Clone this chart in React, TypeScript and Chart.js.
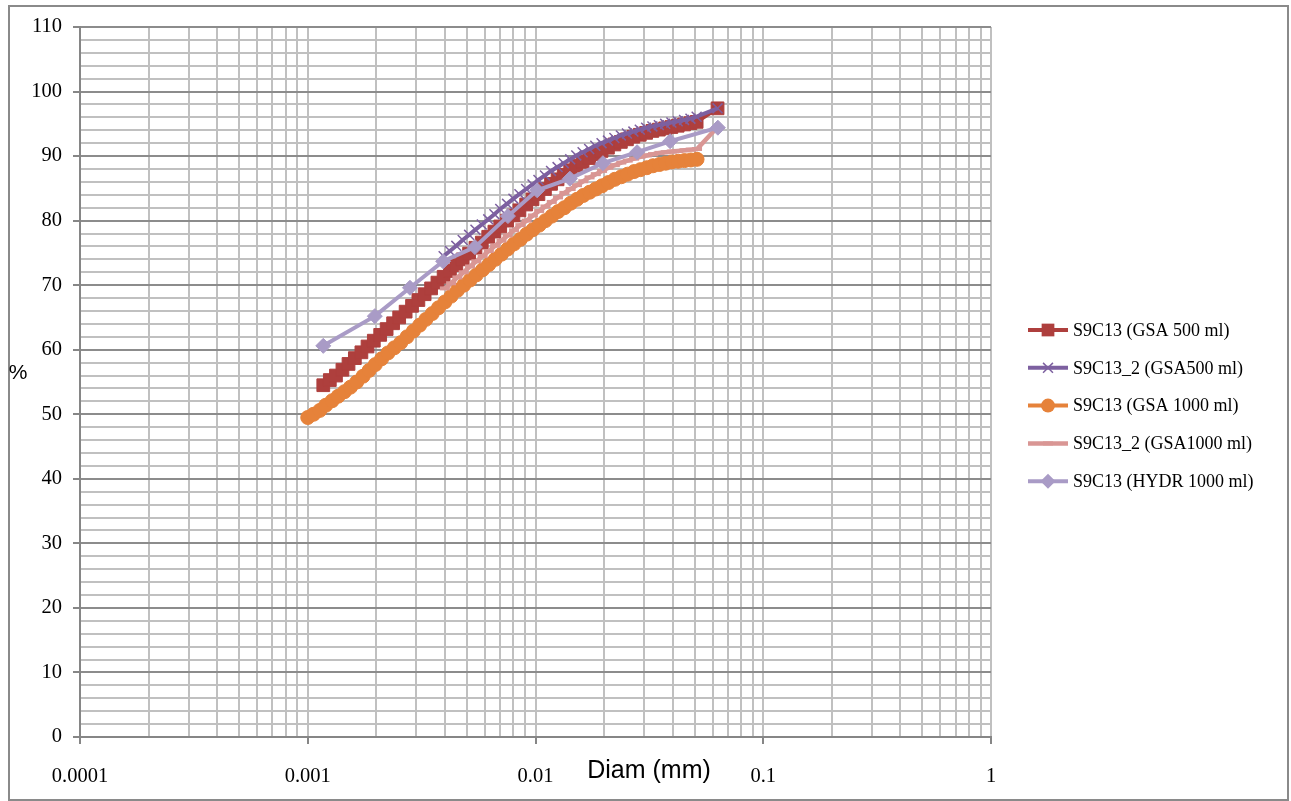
import React, { useEffect, useRef } from 'react';
import { Chart, registerables } from 'chart.js';

Chart.register(...registerables);

// ---------- data ----------
const seriesNames = [
  'S9C13 (GSA 500 ml)',
  'S9C13_2 (GSA500 ml)',
  'S9C13 (GSA 1000 ml)',
  'S9C13_2 (GSA1000 ml)',
  'S9C13 (HYDR 1000 ml)',
];
const seriesColors = ['#AE3F3D', '#7D60A0', '#E6823A', '#D99694', '#A99BC6'];
const seriesMarkers = ['rect', 'crossRot', 'circle', 'line', 'rectRot'];

const xDecades = [0.0001, 0.001, 0.01, 0.1, 1];
const xTickLabels = ['0.0001', '0.001', '0.01', '0.1', '1'];
const yTickLabels = [0, 10, 20, 30, 40, 50, 60, 70, 80, 90, 100, 110];

const gsa500Diam = [
  0.00117, 0.00125, 0.00133, 0.00142, 0.00151, 0.00161, 0.00172, 0.00183, 0.00195, 0.00208,
  0.00222, 0.00237, 0.00252, 0.00269, 0.00287, 0.00306, 0.00326, 0.00348, 0.00371, 0.00395,
  0.00421, 0.00449, 0.00479, 0.00511, 0.00545, 0.00581, 0.0062, 0.0066, 0.007, 0.0075,
  0.008, 0.0085, 0.0091, 0.0097, 0.0103, 0.011, 0.0117, 0.0125, 0.0133, 0.0142,
  0.0151, 0.0161, 0.0172, 0.0183, 0.0195, 0.0208, 0.0222, 0.0237, 0.0252, 0.0269,
  0.0287, 0.0306, 0.0326, 0.0348, 0.0371, 0.0395, 0.0421, 0.0449, 0.0479, 0.051, 0.063,
];
const gsa500Pct = [
  54.5, 55.3, 56.0, 56.9, 57.8, 58.7, 59.6, 60.5, 61.4, 62.3,
  63.2, 64.1, 65.0, 65.9, 66.8, 67.7, 68.6, 69.5, 70.4, 71.3,
  72.2, 73.1, 74.0, 74.9, 75.8, 76.6, 77.5, 78.3, 79.1, 80.0,
  80.8, 81.6, 82.5, 83.3, 84.1, 84.9, 85.7, 86.4, 87.1, 87.8,
  88.5, 89.1, 89.7, 90.3, 90.8, 91.3, 91.8, 92.2, 92.6, 93.0,
  93.3, 93.6, 93.9, 94.1, 94.3, 94.5, 94.7, 94.9, 95.1, 95.3, 97.4,
];

const gsa500bDiam = [
  0.00395, 0.00421, 0.00449, 0.00479, 0.00511, 0.00545, 0.00581, 0.0062, 0.0066, 0.007,
  0.0075, 0.008, 0.0085, 0.0091, 0.0097, 0.0103, 0.011, 0.0117, 0.0125, 0.0133,
  0.0142, 0.0151, 0.0161, 0.0172, 0.0183, 0.0195, 0.0208, 0.0222, 0.0237, 0.0252,
  0.0269, 0.0287, 0.0306, 0.0326, 0.0348, 0.0371, 0.0395, 0.0421, 0.0449, 0.0479, 0.051, 0.063,
];
const gsa500bPct = [
  74.5, 75.3, 76.1, 77.0, 77.8, 78.6, 79.4, 80.2, 81.0, 81.8,
  82.6, 83.4, 84.1, 84.9, 85.6, 86.3, 87.0, 87.7, 88.3, 88.9,
  89.5, 90.1, 90.6, 91.1, 91.6, 92.0, 92.4, 92.8, 93.2, 93.5,
  93.8, 94.1, 94.4, 94.6, 94.8, 95.0, 95.2, 95.4, 95.6, 95.8, 96.1, 97.4,
];

const gsa1000Diam = [
  0.001, 0.00106, 0.00113, 0.0012, 0.00128, 0.00136, 0.00145, 0.00154, 0.00164, 0.00175,
  0.00186, 0.00198, 0.00211, 0.00225, 0.0024, 0.00256, 0.00273, 0.00291, 0.0031, 0.0033,
  0.00352, 0.00375, 0.004, 0.00426, 0.00454, 0.00484, 0.00516, 0.0055, 0.00586, 0.00624,
  0.00665, 0.00709, 0.00755, 0.00805, 0.00858, 0.00914, 0.00974, 0.01038, 0.01106, 0.01179,
  0.01256, 0.01339, 0.01427, 0.01521, 0.01621, 0.01727, 0.0184, 0.0196, 0.0209, 0.0223,
  0.0238, 0.0254, 0.0271, 0.0289, 0.0308, 0.0328, 0.035, 0.0373, 0.0397, 0.0423,
  0.0451, 0.0481, 0.0512,
];
const gsa1000Pct = [
  49.5, 50.0, 50.6, 51.4, 52.1, 52.8, 53.5, 54.2, 55.0, 55.9,
  56.8, 57.7, 58.6, 59.5, 60.3, 61.1, 62.0, 62.9, 63.8, 64.7,
  65.6, 66.5, 67.4, 68.3, 69.2, 70.0, 70.8, 71.6, 72.4, 73.2,
  74.0, 74.8, 75.6, 76.4, 77.1, 77.9, 78.6, 79.3, 80.0, 80.7,
  81.4, 82.0, 82.7, 83.3, 83.9, 84.4, 84.9, 85.4, 85.9, 86.4,
  86.8, 87.2, 87.6, 87.9, 88.2, 88.5, 88.7, 88.9, 89.1, 89.2,
  89.3, 89.4, 89.5,
];

const gsa1000bDiam = [
  0.004, 0.00426, 0.00454, 0.00484, 0.00516, 0.0055, 0.00586, 0.00624, 0.00665, 0.00709,
  0.00755, 0.00805, 0.00858, 0.00914, 0.00974, 0.01038, 0.01106, 0.01179, 0.01256, 0.01339,
  0.01427, 0.01521, 0.01621, 0.01727, 0.0184, 0.0196, 0.0209, 0.0223, 0.0238, 0.0254,
  0.0271, 0.0289, 0.0308, 0.0328, 0.035, 0.0373, 0.0397, 0.0423, 0.0451, 0.0481, 0.0512, 0.063,
];
const gsa1000bPct = [
  69.5, 70.3, 71.2, 72.0, 72.9, 73.7, 74.5, 75.3, 76.1, 76.9,
  77.7, 78.5, 79.3, 80.0, 80.8, 81.5, 82.2, 82.9, 83.6, 84.3,
  84.9, 85.5, 86.1, 86.7, 87.2, 87.7, 88.2, 88.6, 89.0, 89.3,
  89.6, 89.9, 90.1, 90.3, 90.5, 90.6, 90.7, 90.8, 90.9, 91.0, 91.1, 94.5,
];

const hydrDiam = [0.00117, 0.00197, 0.00281, 0.00393, 0.00542, 0.00757, 0.01017, 0.01416, 0.01977, 0.02793, 0.039, 0.0632];
const hydrPct = [60.6, 65.2, 69.6, 73.7, 75.9, 80.7, 84.7, 86.5, 88.9, 90.6, 92.3, 94.4];

const seriesDiam = [gsa500Diam, gsa500bDiam, gsa1000Diam, gsa1000bDiam, hydrDiam];
const seriesPct = [gsa500Pct, gsa500bPct, gsa1000Pct, gsa1000bPct, hydrPct];
const markerRadius = [9, 7, 7, 5, 7.5];
const markerBorder = [1, 1.5, 1, 4, 1];
const lineWidths = [4, 4, 4, 4.5, 4];

// ---------- helpers ----------
const isDecade = (v: number) => xDecades.some((d) => Math.abs(d - v) / d < 1e-6);
const decadeLabel = (v: number) => {
  const i = xDecades.findIndex((d) => Math.abs(d - v) / d < 1e-6);
  return i >= 0 ? xTickLabels[i] : '';
};

function drawMarker(ctx: CanvasRenderingContext2D, style: string, x: number, y: number, r: number, color: string, bw: number) {
  ctx.save();
  ctx.fillStyle = color;
  ctx.strokeStyle = color;
  ctx.lineWidth = bw;
  ctx.beginPath();
  if (style === 'rect') {
    const s = Math.SQRT1_2 * r;
    ctx.rect(x - s, y - s, 2 * s, 2 * s);
    ctx.fill();
  } else if (style === 'circle') {
    ctx.arc(x, y, r, 0, Math.PI * 2);
    ctx.fill();
  } else if (style === 'rectRot') {
    ctx.moveTo(x - r, y);
    ctx.lineTo(x, y - r);
    ctx.lineTo(x + r, y);
    ctx.lineTo(x, y + r);
    ctx.closePath();
    ctx.fill();
  } else if (style === 'crossRot') {
    const s = Math.SQRT1_2 * r;
    ctx.moveTo(x - s, y - s);
    ctx.lineTo(x + s, y + s);
    ctx.moveTo(x + s, y - s);
    ctx.lineTo(x - s, y + s);
    ctx.stroke();
  } else if (style === 'line') {
    ctx.moveTo(x - r, y);
    ctx.lineTo(x + r, y);
    ctx.stroke();
  }
  ctx.restore();
}

const decorPlugin = {
  id: 'decor',
  beforeDraw(chart: any) {
    const ctx = chart.ctx as CanvasRenderingContext2D;
    ctx.save();
    ctx.fillStyle = '#ffffff';
    ctx.fillRect(0, 0, chart.width, chart.height);
    ctx.restore();
  },
  afterDraw(chart: any) {
    const ctx = chart.ctx as CanvasRenderingContext2D;
    ctx.save();
    // outer frame
    ctx.strokeStyle = '#8a8a8a';
    ctx.lineWidth = 2;
    ctx.strokeRect(9, 6, 1279, 794);
    // axis titles
    ctx.fillStyle = '#000';
    ctx.textAlign = 'center';
    ctx.textBaseline = 'middle';
    ctx.font = '21px "Liberation Sans", Arial, sans-serif';
    ctx.fillText('%', 18, 373);
    ctx.font = '25px "Liberation Sans", Arial, sans-serif';
    ctx.fillText('Diam (mm)', 649, 771);
    // legend
    const x0 = 1028;
    const x1 = 1068;
    for (let i = 0; i < seriesNames.length; i++) {
      const y = 330 + i * 37.8;
      ctx.strokeStyle = seriesColors[i];
      ctx.lineWidth = lineWidths[i];
      ctx.beginPath();
      ctx.moveTo(x0, y);
      ctx.lineTo(x1, y);
      ctx.stroke();
      drawMarker(ctx, seriesMarkers[i], (x0 + x1) / 2, y, markerRadius[i], seriesColors[i], markerBorder[i]);
      ctx.fillStyle = '#000';
      ctx.textAlign = 'left';
      ctx.textBaseline = 'middle';
      ctx.font = '18px "Liberation Serif", "Times New Roman", serif';
      ctx.fillText(seriesNames[i], 1073, y + 1);
    }
    ctx.restore();
  },
};

export default function App() {
  const ref = useRef<HTMLCanvasElement | null>(null);

  useEffect(() => {
    if (!ref.current) return;
    const xGrid: number[] = [];
    for (let d = 0; d < xDecades.length - 1; d++) {
      for (let m = 1; m <= 9; m++) xGrid.push(xDecades[d] * m);
    }
    xGrid.push(xDecades[xDecades.length - 1]);
    const yGrid: number[] = [];
    for (let v = 0; v <= 110; v += 2) yGrid.push(v);

    const datasets = seriesNames.map((name, i) => ({
      label: name,
      data: seriesDiam[i].map((d, j) => ({ x: d, y: seriesPct[i][j] })),
      borderColor: seriesColors[i],
      backgroundColor: seriesColors[i],
      pointBackgroundColor: seriesColors[i],
      pointBorderColor: seriesColors[i],
      pointStyle: seriesMarkers[i],
      pointRadius: markerRadius[i],
      pointBorderWidth: markerBorder[i],
      borderWidth: lineWidths[i],
      tension: 0,
      order: seriesNames.length - i,
    }));

    const chart = new Chart(ref.current, {
      type: 'line',
      data: { datasets },
      plugins: [decorPlugin],
      options: {
        responsive: false,
        animation: false,
        devicePixelRatio: 1,
        layout: { padding: { left: 8, top: 27, right: 300, bottom: 0 } },
        plugins: { legend: { display: false }, tooltip: { enabled: false } },
        scales: {
          x: {
            type: 'logarithmic',
            min: 0.0001,
            max: 1,
            afterBuildTicks: (s: any) => {
              s.ticks = xGrid.map((v) => ({ value: v, major: isDecade(v) }));
            },
            afterFit: (s: any) => {
              s.height = 64;
            },
            border: { color: '#868686', width: 2 },
            grid: {
              color: '#c0c0c0',
              lineWidth: 2,
              tickLength: 7,
              tickColor: (c: any) => (c.tick && isDecade(c.tick.value) ? '#868686' : 'rgba(0,0,0,0)'),
              tickWidth: 2,
            },
            ticks: {
              autoSkip: false,
              maxRotation: 0,
              padding: 20,
              color: '#000',
              font: { family: '"Liberation Serif", "Times New Roman", serif', size: 20.5 },
              callback: (v: any) => decadeLabel(Number(v)),
            },
          },
          y: {
            type: 'linear',
            min: 0,
            max: 110,
            afterBuildTicks: (s: any) => {
              s.ticks = yGrid.map((v) => ({ value: v }));
            },
            afterFit: (s: any) => {
              s.width = 72;
            },
            border: { color: '#868686', width: 2 },
            grid: {
              color: (c: any) => (c.tick && c.tick.value % 10 === 0 ? '#8c8c8c' : '#c0c0c0'),
              lineWidth: 2,
              tickLength: 7,
              tickColor: (c: any) => (c.tick && c.tick.value % 10 === 0 ? '#868686' : 'rgba(0,0,0,0)'),
              tickWidth: 2,
            },
            ticks: {
              autoSkip: false,
              padding: 11,
              color: '#000',
              font: { family: '"Liberation Serif", "Times New Roman", serif', size: 20.5 },
              callback: (v: any) => (yTickLabels.includes(Number(v)) ? String(v) : ''),
            },
          },
        },
      },
    } as any);
    return () => chart.destroy();
  }, []);

  return (
    <div style={{ position: 'fixed', left: 0, top: 0, width: 1291, height: 801, background: '#fff' }}>
      <canvas ref={ref} width={1291} height={801} style={{ display: 'block' }} />
    </div>
  );
}
